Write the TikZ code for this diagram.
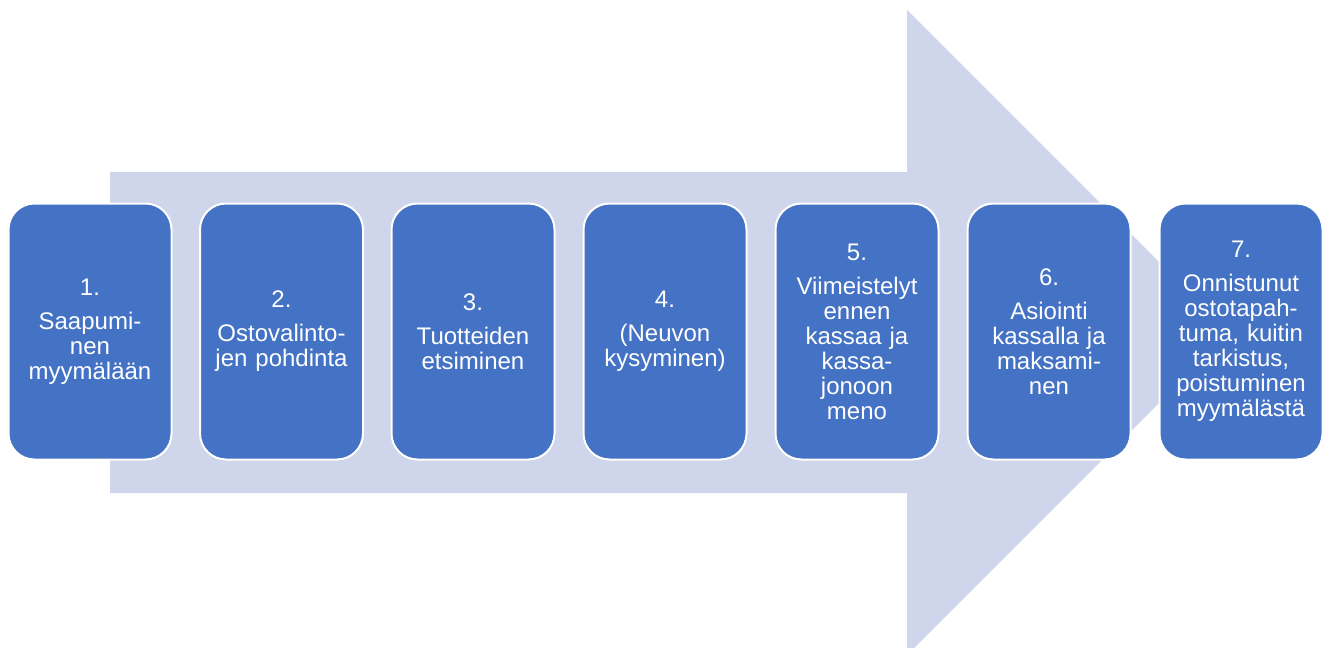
\documentclass[tikz,border=0pt]{standalone}
\usepackage{fontspec}
\setmainfont{Liberation Sans}
\definecolor{stepblue}{HTML}{4472C4}
\definecolor{arrowfill}{HTML}{CFD5EA}
\begin{document}
\begin{tikzpicture}[x=1pt,y=-1pt,
  stepbox/.style={draw=white, line width=2pt, fill=stepblue, rounded corners=26pt,
    minimum width=163pt, minimum height=256pt, inner sep=0pt,
    text=white, align=center, text width=160pt,
    font=\fontsize{24}{25}\selectfont}]
  \useasboundingbox (0,0) rectangle (1326,648);
  % background process arrow
  \fill[arrowfill] (110,172) -- (907,172) -- (907,10) -- (1229.5,332.5)
    -- (914,648) -- (907,648) -- (907,493) -- (110,493) -- cycle;
  % process steps
  \node[stepbox] (s1) at (90,331.5) {1.\\[9pt]Saapumi-\\nen\\myymälään};
  \node[stepbox] (s2) at (281.5,331.5) {2.\\[9pt]Ostovalinto-\\jen pohdinta};
  \node[stepbox] (s3) at (473,331.5) {3.\\[9pt]Tuotteiden\\etsiminen};
  \node[stepbox] (s4) at (665,331.5) {4.\\[9pt](Neuvon\\kysyminen)};
  \node[stepbox] (s5) at (857,331.5) {5.\\[9pt]Viimeistelyt\\ennen\\kassaa ja\\kassa-\\jonoon\\meno};
  \node[stepbox] (s6) at (1049,331.5) {6.\\[9pt]Asiointi\\kassalla ja\\maksami-\\nen};
  \node[stepbox] (s7) at (1241,331.5) {7.\\[9pt]Onnistunut\\ostotapah-\\tuma, kuitin\\tarkistus,\\poistuminen\\myymälästä};
\end{tikzpicture}
\end{document}
